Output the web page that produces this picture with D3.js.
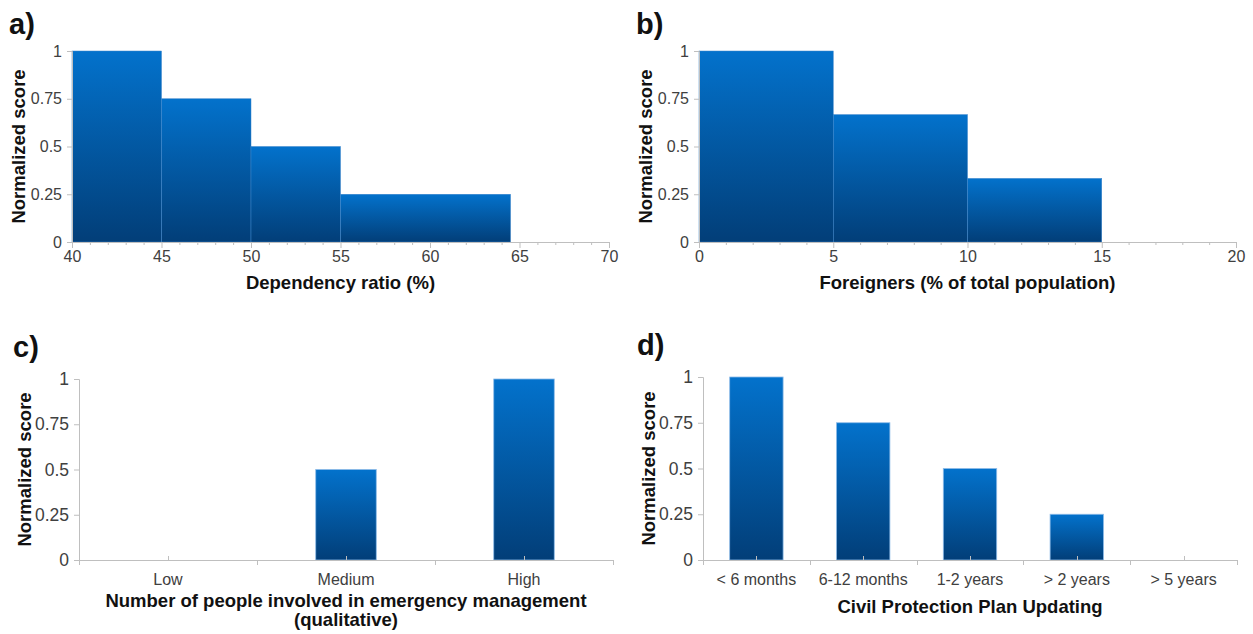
<!DOCTYPE html>
<html>
<head>
<meta charset="utf-8">
<script src="https://d3js.org/d3.v7.min.js"></script>
<style>
  body { margin: 0; background: #fff; font-family: Arial, "Liberation Sans", sans-serif; }
  .axis path, .axis line { stroke: #bfbfbf; }
  .axis text { fill: #404040; font-size: 16px; font-family: Arial, "Liberation Sans", sans-serif; }
  .axis.big text { font-size: 17.5px; }
  .title { font-weight: bold; font-size: 18.5px; fill: #111; font-family: Arial, "Liberation Sans", sans-serif; }
  .panel { font-weight: bold; font-size: 29px; fill: #111; font-family: Arial, "Liberation Sans", sans-serif; }
</style>
</head>
<body>
<svg id="chart" width="1253" height="634"></svg>
<script>
// a) dependency ratio bins
const binsA = [[40, 45], [45, 50], [50, 55], [55, 64.5]];
const scoresA = [1, 0.75, 0.5, 0.25];
// b) foreigners bins
const binsB = [[0, 5], [5, 10], [10, 15]];
const scoresB = [1, 0.667, 0.333];
// c) qualitative people involved
const catsC = ["Low", "Medium", "High"];
const scoresC = [0, 0.5, 1];
// d) plan updating
const catsD = ["< 6 months", "6-12 months", "1-2 years", "> 2 years", "> 5 years"];
const scoresD = [1, 0.75, 0.5, 0.25, 0];
const yTicks = [0, 0.25, 0.5, 0.75, 1];

const svg = d3.select("#chart");

const defs = svg.append("defs");
const grad = defs.append("linearGradient").attr("id", "blueGrad")
  .attr("x1", 0).attr("y1", 0).attr("x2", 0).attr("y2", 1);
grad.append("stop").attr("offset", "0%").attr("stop-color", "#0372cc");
grad.append("stop").attr("offset", "100%").attr("stop-color", "#023e78");

function yAxis(g, y, x0, big) {
  return g.append("g").attr("class", big ? "axis big" : "axis").attr("transform", `translate(${x0},0)`)
    .call(d3.axisLeft(y).tickValues(yTicks).tickFormat(d => String(d)).tickSize(5).tickPadding(5));
}

function yTitle(g, x, y0, y1) {
  g.append("text").attr("class", "title")
    .attr("transform", `translate(${x},${(y0 + y1) / 2}) rotate(-90)`)
    .attr("text-anchor", "middle").text("Normalized score");
}

function histPanel(opt) {
  const g = svg.append("g");
  const x = d3.scaleLinear().domain(opt.domain).range([opt.left, opt.right]);
  const y = d3.scaleLinear().domain([0, 1]).range([opt.bottom, opt.top]);

  g.selectAll("rect.bar").data(opt.bins).join("rect")
    .attr("class", "bar")
    .attr("x", d => x(d[0]))
    .attr("width", d => x(d[1]) - x(d[0]))
    .attr("y", (d, i) => y(opt.scores[i]))
    .attr("height", (d, i) => y(0) - y(opt.scores[i]))
    .attr("fill", "url(#blueGrad)")
    .attr("stroke", "#3f86cc").attr("stroke-width", 0.5);

  // minor ticks every unit
  const minor = d3.range(opt.domain[0], opt.domain[1] + 1, 1).filter(v => v % 5 !== 0);
  g.append("g").attr("class", "axis").attr("transform", `translate(0,${opt.bottom})`)
    .call(d3.axisBottom(x).tickValues(minor).tickFormat("").tickSize(3))
    .select(".domain").remove();
  g.append("g").attr("class", "axis").attr("transform", `translate(0,${opt.bottom})`)
    .call(d3.axisBottom(x).ticks(opt.ticks).tickSize(6).tickSizeOuter(6).tickPadding(3));
  yAxis(g, y, opt.left, false);

  g.append("text").attr("class", "title").attr("text-anchor", "middle")
    .attr("x", (opt.left + opt.right) / 2).attr("y", opt.bottom + 47).text(opt.xTitle);
  yTitle(g, opt.left - 47, opt.top, opt.bottom);
  g.append("text").attr("class", "panel").attr("x", opt.left - 63).attr("y", opt.top - 17).text(opt.label);
}

function barPanel(opt) {
  const g = svg.append("g");
  const x = d3.scaleBand().domain(opt.cats).range([opt.left, opt.right]).paddingInner(0).paddingOuter(0);
  const y = d3.scaleLinear().domain([0, 1]).range([opt.bottom, opt.top]);
  const bw = x.bandwidth() * opt.barFrac;

  g.selectAll("rect.bar").data(opt.cats.filter((c, i) => opt.scores[i] > 0)).join("rect")
    .attr("class", "bar")
    .attr("x", d => x(d) + (x.bandwidth() - bw) / 2)
    .attr("width", bw)
    .attr("y", d => y(opt.scores[opt.cats.indexOf(d)]))
    .attr("height", d => y(0) - y(opt.scores[opt.cats.indexOf(d)]))
    .attr("fill", "url(#blueGrad)")
    .attr("stroke", "#8dbbe8").attr("stroke-width", 0.8);

  // tick marks at band boundaries and centers
  const bounds = opt.cats.map(c => x(c)).concat([opt.right]);
  const centers = opt.cats.map(c => x(c) + x.bandwidth() / 2);
  const ax = g.append("g").attr("class", "axis");
  ax.append("line").attr("x1", opt.left).attr("x2", opt.right)
    .attr("y1", opt.bottom + 0.5).attr("y2", opt.bottom + 0.5);
  ax.selectAll("line.tk").data(bounds.concat(centers)).join("line").attr("class", "tk")
    .attr("x1", d => Math.round(d) + 0.5).attr("x2", d => Math.round(d) + 0.5)
    .attr("y1", (d, i) => i < bounds.length ? opt.bottom : opt.bottom - 4)
    .attr("y2", (d, i) => i < bounds.length ? opt.bottom + 5 : opt.bottom + 1);
  ax.selectAll("text").data(opt.cats).join("text")
    .attr("x", d => x(d) + x.bandwidth() / 2).attr("y", opt.bottom + 25)
    .attr("text-anchor", "middle").text(d => d);
  yAxis(g, y, opt.left, true);

  opt.xTitle.forEach((t, i) => {
    g.append("text").attr("class", "title").attr("text-anchor", "middle")
      .attr("x", opt.titleX).attr("y", opt.bottom + opt.titleDy + i * 19).text(t);
  });
  yTitle(g, opt.left - 48, opt.top, opt.bottom);
  g.append("text").attr("class", "panel").attr("x", opt.left - 66).attr("y", opt.top - 22).text(opt.label);
}

histPanel({ bins: binsA, scores: scoresA, domain: [40, 70], ticks: 6,
  left: 72, right: 609, top: 51, bottom: 242, xTitle: "Dependency ratio (%)", label: "a)" });
histPanel({ bins: binsB, scores: scoresB, domain: [0, 20], ticks: 4,
  left: 699, right: 1236, top: 51, bottom: 242, xTitle: "Foreigners (% of total population)", label: "b)" });
barPanel({ cats: catsC, scores: scoresC, barFrac: 0.34, left: 79, right: 613, top: 379, bottom: 560,
  xTitle: ["Number of people involved in emergency management", "(qualitative)"], titleX: 346, titleDy: 47,
  label: "c)" });
barPanel({ cats: catsD, scores: scoresD, barFrac: 0.5, left: 703, right: 1237, top: 377, bottom: 560,
  xTitle: ["Civil Protection Plan Updating"], titleX: 970, titleDy: 53, label: "d)" });
</script>
</body>
</html>
